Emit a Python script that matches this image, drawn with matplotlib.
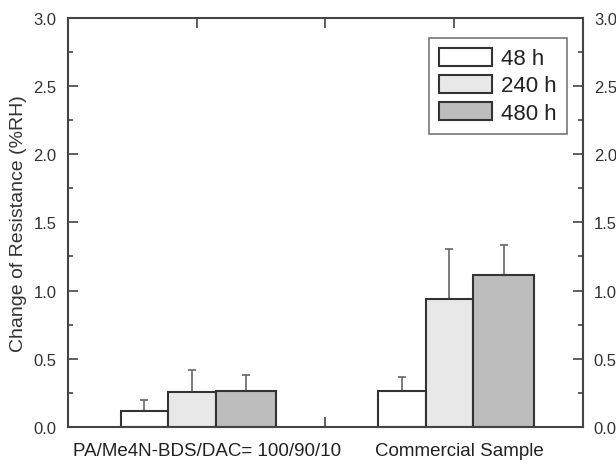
import numpy as np
import matplotlib.pyplot as plt

plt.rcParams['font.family'] = ['Liberation Sans', 'DejaVu Sans']

# data
groups = ['PA/Me4N-BDS/DAC= 100/90/10', 'Commercial Sample']
series = ['48 h', '240 h', '480 h']
values = [[0.115, 0.255, 0.266],
          [0.266, 0.937, 1.115]]
errors = [[0.085, 0.166, 0.114],
          [0.100, 0.370, 0.222]]

colors = ['#ffffff', '#e8e8e8', '#bdbdbd']
group_pos = np.array([1.0, 3.0])
offsets = [-0.59, -0.22, 0.15]
widths = [0.37, 0.37, 0.47]

fig = plt.figure(figsize=(6.16, 4.64), dpi=100)
ax = fig.add_axes([0.110, 0.0776, 0.836, 0.882])

vals = np.array(values)
errs = np.array(errors)
for k in range(3):
    x = group_pos + offsets[k]
    ax.bar(x, vals[:, k], width=widths[k], align='edge', color=colors[k],
           edgecolor='#333333', linewidth=1.5, label=series[k], zorder=2)
    ax.errorbar(x + widths[k] / 2, vals[:, k], yerr=[np.zeros(2), errs[:, k]],
                fmt='none', ecolor='#666666', elinewidth=1.2, capsize=3,
                capthick=1.2, zorder=1)

ax.set_xlim(0, 4)
ax.set_ylim(0, 3.0)
ax.set_xticks([1, 2, 3])
ax.set_xticklabels(['', '', ''])
ax.set_yticks(np.arange(0, 3.01, 0.5))
ax.set_yticks(np.arange(0, 3.01, 0.25), minor=True)
ax.set_yticklabels(['%.1f' % v for v in np.arange(0, 3.01, 0.5)])

ax.tick_params(axis='both', which='major', direction='in', length=7, width=1.2,
               color='#444444', top=True, right=True, labelright=True,
               labelsize=12, labelcolor='#333333', pad=8)
ax.tick_params(axis='y', which='minor', direction='in', length=3.5, width=1.2,
               color='#444444', right=True)
for s in ax.spines.values():
    s.set_color('#444444')
    s.set_linewidth(1.5)

for g, xc in zip(groups, [1.08, 3.04]):
    ax.text(xc, -0.036, g, ha='center', va='top', fontsize=13.5,
            color='#222222', transform=ax.get_xaxis_transform())

ax.set_ylabel('Change of Resistance (%RH)', fontsize=14, color='#333333',
              labelpad=5)

leg = ax.legend(loc='upper right', bbox_to_anchor=(0.969, 0.951), fontsize=16,
                frameon=True, fancybox=False, edgecolor='#555555',
                borderaxespad=0, handlelength=2.4, handleheight=0.85,
                handletextpad=0.4, labelspacing=0.25, borderpad=0.45,
                alignment='right')
leg.get_frame().set_linewidth(1.2)
for t in leg.get_texts():
    t.set_color('#222222')
    t.set_ha('right')

fig.savefig('out.png', dpi=100)
